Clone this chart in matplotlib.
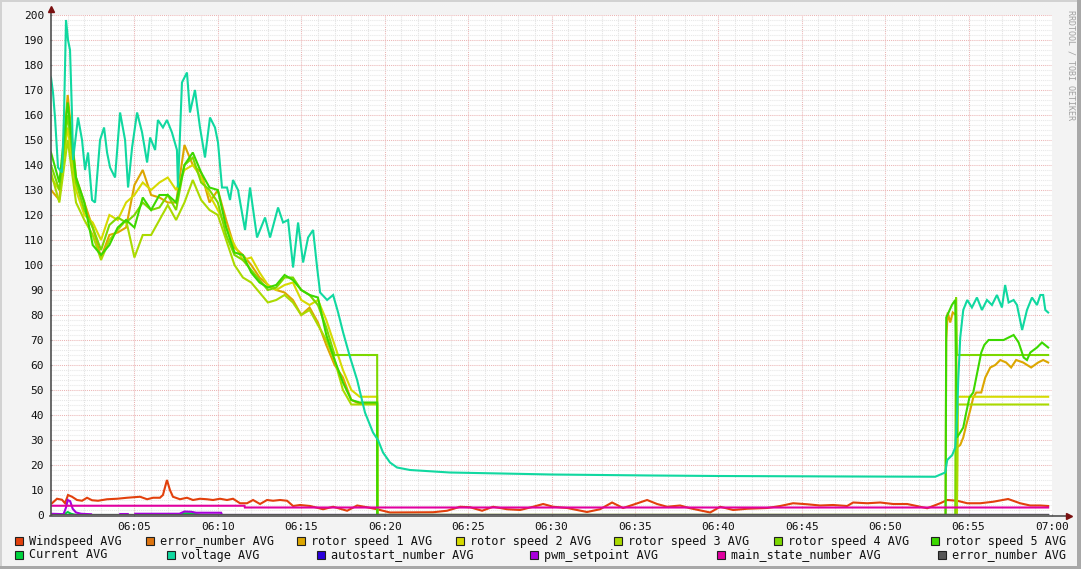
import numpy as np
import matplotlib
matplotlib.use("Agg")
import matplotlib.pyplot as plt
from matplotlib.lines import Line2D
from matplotlib.patches import Rectangle

# ---- data (minutes after 06:00) ----
LABELS = ["Windspeed AVG", "error_number AVG", "rotor speed 1 AVG", "rotor speed 2 AVG",
          "rotor speed 3 AVG", "rotor speed 4 AVG", "rotor speed 5 AVG", "Current AVG",
          "voltage AVG", "autostart_number AVG", "pwm_setpoint AVG", "main_state_number AVG",
          "error_number AVG"]
COLORS = ["#E2400C", "#DD7410", "#DCA600", "#D6DA00", "#AADA00", "#7CD800", "#3CD800",
          "#00D43E", "#10D8A0", "#2A00DC", "#A800DC", "#E000A0", "#555555"]

wind_t = [0.06, 0.36, 0.66, 0.84, 1.02, 1.26, 1.56, 1.86, 2.16, 2.46, 2.82, 3.36, 3.96, 4.56,
          5.34, 5.76, 6.12, 6.53, 6.71, 6.95, 7.13, 7.31, 7.73, 8.15, 8.51, 8.93, 9.35, 9.71,
          10.13, 10.55, 10.91, 11.33, 11.75, 12.11, 12.53, 12.95, 13.31, 13.73, 14.15, 14.51,
          14.93, 15.53, 16.31, 16.91, 17.75, 18.35, 18.94, 19.54, 20.32, 22.9, 23.74, 24.52,
          25.12, 25.84, 26.5, 27.34, 28.12, 28.9, 29.5, 30.1, 30.94, 31.53, 32.13, 32.91,
          33.63, 34.29, 34.89, 35.73, 36.33, 36.93, 37.71, 38.31, 39.51, 40.11, 40.89, 41.73,
          42.93, 43.71, 44.48, 45.32, 46.1, 46.88, 47.72, 48.08, 48.92, 49.7, 50.48, 51.32,
          52.1, 52.52, 53.3, 53.72, 54.32, 54.92, 55.7, 56.47, 57.37, 58.09, 58.69, 59.29, 59.77]
wind_v = [4.7, 6.5, 6.1, 4.7, 8.0, 7.3, 6.0, 5.7, 6.9, 5.9, 5.7, 6.3, 6.5, 6.9,
          7.3, 6.3, 6.9, 6.9, 8.0, 14.0, 10.0, 7.3, 6.3, 6.9, 6.0, 6.5, 6.3, 6.0,
          6.5, 6.0, 6.5, 4.7, 4.7, 6.0, 4.4, 6.0, 5.7, 6.0, 5.7, 3.6,
          4.0, 3.6, 2.3, 3.3, 1.7, 3.8, 3.1, 2.3, 1.0, 1.1, 1.7, 3.3,
          3.1, 1.7, 3.3, 2.3, 2.0, 3.3, 4.4, 3.3, 2.8, 2.0, 1.2, 2.3,
          5.0, 2.8, 4.1, 6.0, 4.4, 3.3, 3.8, 2.7, 1.0, 3.3, 2.0, 2.5,
          2.8, 3.6, 4.7, 4.3, 3.8, 4.0, 3.6, 5.0, 4.7, 5.0, 4.4, 4.4,
          3.3, 2.7, 4.7, 6.0, 5.7, 4.7, 4.7, 5.3, 6.4, 4.7, 3.8, 3.8, 3.6]

zero_t = [0.0, 59.77]
zero_v = [0.0, 0.0]

rotor_left_t = np.arange(0, 19.01, 0.5)
rotor1_left = [130, 126, 168, 135, 125, 115, 103, 112, 113, 115, 132, 138, 128, 127, 125, 125,
               148, 140, 137, 125, 130, 118, 107, 104, 100, 95, 92, 90, 89, 86, 80, 83, 77,
               68, 60, 55, 46, 44.5, 44.5]
rotor2_left = [135, 130, 155, 130, 120, 117, 110, 120, 118, 125, 128, 133, 130, 133, 135, 130,
               138, 140, 135, 128, 122, 115, 108, 102, 103, 97, 92, 90, 92, 93, 86, 84, 86,
               78, 68, 58, 50, 47.3, 47.3]
rotor3_left = [137, 125, 150, 125, 118, 112, 102, 110, 114, 118, 103, 112, 112, 118, 124, 118,
               125, 134, 126, 122, 120, 110, 100, 95, 93, 89, 85, 86, 88, 85, 80, 82, 76,
               70, 62, 50, 44.2, 44.2, 44.2]
rotor4_left = [140, 130, 160, 133, 122, 115, 106, 116, 119, 117, 120, 125, 122, 123, 128, 122,
               140, 143, 133, 130, 125, 112, 104, 102, 98, 94, 90, 91, 95, 95, 90, 88, 84,
               75, 64, 64, 64, 64, 64]
rotor5_left = [145, 133, 165, 135, 125, 108, 104, 108, 115, 118, 115, 127, 122, 128, 128, 125,
               140, 145, 137, 131, 130, 115, 105, 104, 97, 93, 91, 92, 96, 94, 90, 88, 87,
               72, 62, 53, 46, 45, 45]

rotor1_right_t = [19.55, 19.56, 53.62, 53.66, 53.75, 53.9, 54.05, 54.25, 54.3, 54.5, 54.68, 54.86,
                  55.1, 55.28, 55.46, 55.76, 56.0, 56.3, 56.6, 56.9, 57.25, 57.55, 57.85, 58.27,
                  58.75, 59.17, 59.47, 59.77]
rotor1_right_v = [44.5, 0, 0, 70, 81, 77, 81, 80, 27, 28, 31, 36,
                  42, 47, 49, 49, 55, 59, 60, 62, 61, 59, 62, 61,
                  59, 61, 62, 61]
rotor2_right_t = [19.55, 19.56, 54.3, 54.35, 59.77]
rotor2_right_v = [47.3, 0, 0, 47.3, 47.3]
rotor3_right_t = [19.55, 19.56, 54.3, 54.35, 59.77]
rotor3_right_v = [44.2, 0, 0, 44.2, 44.2]
rotor4_right_t = [19.55, 19.56, 54.2, 54.25, 54.3, 59.77]
rotor4_right_v = [64, 0, 0, 87, 64, 64]
rotor5_right_t = [19.55, 19.56, 53.62, 53.66, 53.8, 54.0, 54.2, 54.3, 54.5, 54.68, 54.86, 55.05,
                  55.28, 55.46, 55.64, 55.76, 55.94, 56.2, 56.8, 57.1, 57.4, 57.7, 58.0, 58.3,
                  58.5, 58.7, 59.1, 59.4, 59.77]
rotor5_right_v = [45, 0, 0, 79, 81, 84, 86, 31, 33, 35, 41, 47,
                  49, 55, 61, 65, 68, 70, 70, 70, 71, 72, 69, 63,
                  62, 65, 67, 69, 67]

current_t = [0, 0.5, 0.8, 1.0, 1.2, 1.5, 7.6, 8.0, 8.3, 8.7, 9.0, 59.77]
current_v = [0, 0, 0.3, 1.2, 0.5, 0, 0, 0.7, 0.7, 0.3, 0, 0]

volt_t = [0, 0.12, 0.24, 0.42, 0.66, 0.78, 0.9, 1.02, 1.14, 1.26, 1.32, 1.62, 1.86, 2.04, 2.22,
          2.46, 2.64, 2.94, 3.18, 3.36, 3.54, 3.84, 4.14, 4.44, 4.62, 4.86, 5.16, 5.46, 5.76,
          5.94, 6.24, 6.41, 6.71, 6.95, 7.25, 7.55, 7.61, 7.85, 8.15, 8.33, 8.63, 8.93, 9.23,
          9.53, 9.83, 10.01, 10.25, 10.55, 10.73, 10.91, 11.21, 11.63, 11.93, 12.35, 12.83,
          13.13, 13.61, 13.91, 14.21, 14.51, 14.81, 15.11, 15.41, 15.71, 15.95, 16.13, 16.55,
          16.91, 17.21, 17.51, 17.93, 18.35, 18.82, 19.3, 19.6, 19.9, 20.32, 20.74, 21.52,
          23.9, 27, 30, 33, 36, 40, 44, 48, 53.0, 53.6, 53.72, 54.02, 54.2, 54.32, 54.38, 54.5,
          54.68, 54.92, 55.2, 55.5, 55.8, 56.1, 56.4, 56.7, 57.0, 57.19, 57.4, 57.7, 57.9,
          58.21, 58.5, 58.8, 59.1, 59.3, 59.47, 59.6, 59.77]
volt_v = [175, 169, 159, 139, 137, 160, 198, 190, 186, 160, 142, 159, 150, 138, 145,
          126, 125, 150, 155, 145, 139, 135, 161, 150, 131, 147, 161, 153, 141,
          151, 146, 158, 155, 158, 153, 146, 131, 173, 177, 161, 170, 155, 143,
          159, 155, 149, 131, 131, 126, 134, 130, 114, 131, 111, 119,
          111, 123, 117, 118, 99, 117, 101, 111, 114, 99, 89, 86,
          88, 81, 73, 63, 54, 41, 33, 30, 25, 21, 19, 18,
          17, 16.6, 16.2, 16, 15.8, 15.6, 15.5, 15.4, 15.3, 17, 22, 24, 27, 41, 54, 71,
          82, 86, 83, 87, 82, 86, 84, 88, 83, 92, 85, 86, 84,
          74, 82, 87, 84, 88, 88, 82, 81]

pwm_t = [0, 0.5, 0.75, 0.9, 1.0, 1.15, 1.3, 1.5, 1.8, 2.4, 2.45, 4.1, 4.15, 4.6, 4.65,
         5.0, 5.05, 7.7, 8.0, 8.4, 8.7, 10.2, 10.25, 59.77]
pwm_v = [0.5, 0.4, 0.3, 3.0, 6.0, 5.5, 2.5, 1.0, 0.5, 0.3, np.nan, np.nan, 0.4, 0.4, np.nan,
         np.nan, 0.5, 0.5, 1.4, 1.3, 0.9, 0.9, 0, 0]

state_t = [0, 11.6, 11.62, 59.77]
state_v = [3.7, 3.7, 3.0, 3.0]

XTICKS = [5, 10, 15, 20, 25, 30, 35, 40, 45, 50, 55, 60]
XTICK_LABELS = ["06:05", "06:10", "06:15", "06:20", "06:25", "06:30", "06:35", "06:40",
                "06:45", "06:50", "06:55", "07:00"]

series = [
    (wind_t, wind_v),
    (zero_t, zero_v),
    (np.r_[rotor_left_t, rotor1_right_t], rotor1_left + rotor1_right_v),
    (np.r_[rotor_left_t, rotor2_right_t], rotor2_left + rotor2_right_v),
    (np.r_[rotor_left_t, rotor3_right_t], rotor3_left + rotor3_right_v),
    (np.r_[rotor_left_t, rotor4_right_t], rotor4_left + rotor4_right_v),
    (np.r_[rotor_left_t, rotor5_right_t], rotor5_left + rotor5_right_v),
    (current_t, current_v),
    (volt_t, volt_v),
    (zero_t, zero_v),
    (pwm_t, pwm_v),
    (state_t, state_v),
    (zero_t, zero_v),
]

# ---- figure ----
W, H = 1081, 569
plt.rcParams['font.family'] = ['DejaVu Sans Mono']
fig = plt.figure(figsize=(W / 100, H / 100), dpi=100, facecolor="#F3F3F3")


def fx(px):
    return px / W


def fy(py):
    return 1 - py / H


ax = fig.add_axes([fx(51), fy(515), (1052 - 51) / W, 500 / H])
ax.set_facecolor("white")
ax.set_xlim(0, 60)
ax.set_ylim(0, 200)

# grid: minor gray, major red
for m in range(1, 60):
    c = "#EBB4B4" if m % 5 == 0 else "#E2E2E2"
    ax.axvline(m, color=c, lw=0.75, ls=(0, (1, 1)), zorder=0)
for v in range(2, 201, 2):
    c = "#EBB4B4" if v % 10 == 0 else "#E6E6E6"
    ax.axhline(v, color=c, lw=0.75, ls=(0, (1, 1)), zorder=0)

for (t, v), col in zip(series, COLORS):
    ax.plot(t, v, color=col, lw=1.5, zorder=2, solid_joinstyle="miter")

for s in ax.spines.values():
    s.set_visible(False)
ax.set_xticks(XTICKS)
ax.set_xticklabels(XTICK_LABELS)
ax.set_yticks(range(0, 201, 10))
ax.tick_params(axis="both", length=2, direction="inout", color="#999999",
               labelsize=8, labelcolor="#111111", pad=4)

# axes lines with arrows
axis_col = "#505050"
fig.add_artist(Line2D([fx(50), fx(1066)], [fy(515.5), fy(515.5)], color=axis_col, lw=1.2))
fig.add_artist(Line2D([fx(50.5), fx(50.5)], [fy(515), fy(12)], color=axis_col, lw=1.2))
fig.add_artist(Line2D([fx(1069)], [fy(515.5)], marker=">", ms=5, color="#7A1010", lw=0))
fig.add_artist(Line2D([fx(50.5)], [fy(9)], marker="^", ms=5, color="#7A1010", lw=0))

# frame shading
fig.add_artist(Rectangle((0, 0), fx(2), 1, transform=fig.transFigure, color="#D2D2D2", lw=0))
fig.add_artist(Rectangle((0, fy(2)), 1, 2 / H, transform=fig.transFigure, color="#D2D2D2", lw=0))
fig.add_artist(Rectangle((fx(1077), 0), fx(4), 1, transform=fig.transFigure, color="#A8A8A8", lw=0))
fig.add_artist(Rectangle((0, 0), 1, 3 / H, transform=fig.transFigure, color="#A8A8A8", lw=0))

fig.text(fx(1071), fy(10), "RRDTOOL / TOBI OETIKER", rotation=270, fontsize=6,
         color="#A0A0A0", ha="center", va="top")

# legend
row_x = [[15, 146, 297, 456, 614, 774, 931], [15, 167, 317, 530, 717, 938]]
row_y = [541, 555]
idx = 0
for r, xs in enumerate(row_x):
    for x0 in xs:
        fig.add_artist(Rectangle((fx(x0), fy(row_y[r] + 4)), 8 / W, 8 / H,
                                 transform=fig.transFigure, facecolor=COLORS[idx],
                                 edgecolor="#202020", lw=0.8))
        fig.text(fx(x0 + 14), fy(row_y[r]), LABELS[idx], fontsize=8.5, color="#111111",
                 ha="left", va="center")
        idx += 1

fig.savefig("out.png", dpi=100, facecolor=fig.get_facecolor())
